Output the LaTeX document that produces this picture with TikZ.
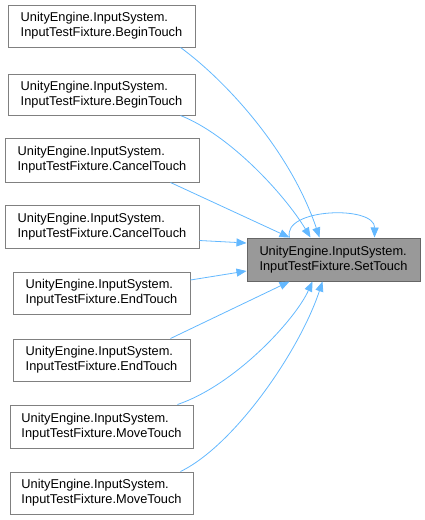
\documentclass[tikz,border=0pt]{standalone}
\usepackage{fontspec}
\setmainfont{Liberation Sans}
\usetikzlibrary{arrows.meta}
\definecolor{edgeblue}{HTML}{63B8FF}
\definecolor{boxgray}{HTML}{808080}
\definecolor{tgtfill}{HTML}{999999}
\definecolor{tgtdraw}{HTML}{666666}
\tikzset{
  fnbox/.style={draw=boxgray, line width=1pt, fill=white, align=left, inner sep=0pt,
    font=\fontsize{12.8}{15}\selectfont, anchor=center},
  tgtbox/.style={fnbox, fill=tgtfill, draw=tgtdraw},
  calledge/.style={draw=edgeblue, line width=0.8pt, -{Triangle[length=10pt,width=8pt,fill=edgeblue]}}
}
\begin{document}
\begin{tikzpicture}[x=1pt,y=-1pt]
\useasboundingbox (0,0) rectangle (425,520);
% boxes: centre, width, height
\node[fnbox, minimum width=187pt, minimum height=42pt] (A) at (101.5,26) {UnityEngine.InputSystem.\\InputTestFixture.BeginTouch};
\node[fnbox, minimum width=187pt, minimum height=41pt] (B) at (101.5,94.5) {UnityEngine.InputSystem.\\InputTestFixture.BeginTouch};
\node[fnbox, minimum width=194pt, minimum height=44pt] (C1) at (102,160) {UnityEngine.InputSystem.\\InputTestFixture.CancelTouch};
\node[fnbox, minimum width=194pt, minimum height=43pt] (C2) at (102,226.5) {UnityEngine.InputSystem.\\InputTestFixture.CancelTouch};
\node[fnbox, minimum width=177pt, minimum height=42pt] (E1) at (101.5,293) {UnityEngine.InputSystem.\\InputTestFixture.EndTouch};
\node[fnbox, minimum width=177pt, minimum height=42pt] (E2) at (101.5,360) {UnityEngine.InputSystem.\\InputTestFixture.EndTouch};
\node[fnbox, minimum width=183pt, minimum height=43pt] (M1) at (101.5,426.5) {UnityEngine.InputSystem.\\InputTestFixture.MoveTouch};
\node[fnbox, minimum width=183pt, minimum height=42pt] (M2) at (101.5,493) {UnityEngine.InputSystem.\\InputTestFixture.MoveTouch};
\node[tgtbox, minimum width=173pt, minimum height=43pt] (T) at (333.5,259.5) {UnityEngine.InputSystem.\\InputTestFixture.SetTouch};
% edges
\draw[calledge] ([xshift=-15pt]A.south east) .. controls (225,80) and (290,150) .. ([xshift=73pt]T.north west);
\draw[calledge] ([xshift=-15pt]B.south east) .. controls (230,135) and (285,195) .. ([xshift=64pt]T.north west);
\draw[calledge] ([xshift=-29pt]C1.south east) -- ([xshift=43pt]T.north west);
\draw[calledge] ([yshift=-14pt]C2.east) -- ([yshift=16.5pt]T.west);
\draw[calledge] ([yshift=13pt]E1.east) -- ([yshift=-11.5pt]T.west);
\draw[calledge] ([xshift=-20pt]E2.north east) -- ([xshift=43pt]T.south west);
\draw[calledge] ([xshift=-16pt]M1.north east) .. controls (235,385) and (295,320) .. ([xshift=66pt]T.south west);
\draw[calledge] ([xshift=-13pt]M2.north east) .. controls (235,445) and (300,350) .. ([xshift=76pt]T.south west);
\draw[calledge] ([xshift=43pt]T.north west) .. controls (282,208) and (375,205) .. ([xshift=128pt]T.north west);
\end{tikzpicture}
\end{document}
